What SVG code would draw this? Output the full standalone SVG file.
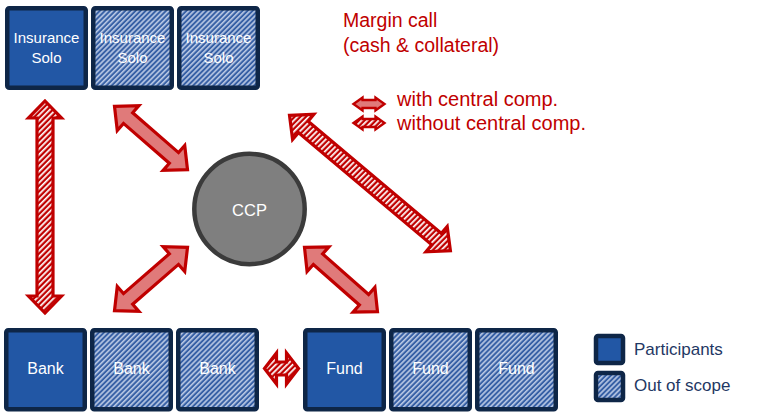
<svg xmlns="http://www.w3.org/2000/svg" width="768" height="412" viewBox="0 0 768 412">
<defs>
<pattern id="boxHatch" patternUnits="userSpaceOnUse" width="3.6" height="3.6" patternTransform="rotate(45)">
<rect width="3.6" height="3.6" fill="#3760a5"/>
<rect width="1.6" height="3.6" fill="#b9c8e4"/>
</pattern>
<pattern id="redHatch" patternUnits="userSpaceOnUse" width="4" height="4" patternTransform="rotate(45)">
<rect width="4" height="4" fill="#c00000"/>
<rect width="1.7" height="4" fill="#ffffff"/>
</pattern>
<style>
.box{stroke:#0e2647;stroke-width:4.5}
.part{fill:#2257a5}
.oos{fill:url(#boxHatch)}
.bt{font-family:"Liberation Sans",Arial,sans-serif;fill:#ffffff;text-anchor:middle}
.red{font-family:"Liberation Sans",Arial,sans-serif;fill:#c00000}
.leg{font-family:"Liberation Sans",Arial,sans-serif;fill:#1f3864;font-size:17px}
.arr{stroke:#c00000;stroke-width:3.2;stroke-linejoin:miter}
.solid{fill:#e07a7a}
.hatch{fill:url(#redHatch)}
.arrs{stroke:#c00000;stroke-width:2.4}
</style>
</defs>

<g id="connectors">
<polygon class="arr hatch" points="45,101 61.5,118 53,118 53,296 61.5,296 45,313 28.5,296 37,296 37,118 28.5,118"/>
<polygon class="arr solid" transform="translate(114.5,106.3) rotate(40.97)" points="0,0 18,-16.5 18,-7 78.7,-7 78.7,-16.5 96.7,0 78.7,16.5 78.7,7 18,7 18,16.5"/>
<polygon class="arr solid" transform="translate(114.5,310.7) rotate(-40.97)" points="0,0 18,-16.5 18,-7 78.7,-7 78.7,-16.5 96.7,0 78.7,16.5 78.7,7 18,7 18,16.5"/>
<polygon class="arr solid" transform="translate(304.5,247.3) rotate(41.4)" points="0,0 18,-16.5 18,-7 79.3,-7 79.3,-16.5 97.3,0 79.3,16.5 79.3,7 18,7 18,16.5"/>
<polygon class="arr hatch" points="289.5,115.3 313.9,114.3 308.1,121.2 441.4,233.4 447.2,226.5 450.4,250.7 426,251.8 431.8,244.9 298.4,132.6 292.6,139.5"/>
<polygon class="arr hatch" points="264.5,368.5 276.5,353 276.5,362 286.5,362 286.5,353 298.5,368.5 286.5,384 286.5,375 276.5,375 276.5,384"/>
</g>

<g id="ins1"><rect class="box part" x="7.25" y="8.25" width="78.5" height="79.5" rx="2"/><text class="bt" x="46.5" y="43" font-size="15">Insurance</text><text class="bt" x="46.5" y="63" font-size="15">Solo</text></g>
<g id="ins2"><rect class="box oos" x="93.25" y="8.25" width="78.5" height="79.5" rx="2"/><text class="bt" x="132.5" y="43" font-size="15">Insurance</text><text class="bt" x="132.5" y="63" font-size="15">Solo</text></g>
<g id="ins3"><rect class="box oos" x="179.25" y="8.25" width="78.5" height="79.5" rx="2"/><text class="bt" x="218.5" y="43" font-size="15">Insurance</text><text class="bt" x="218.5" y="63" font-size="15">Solo</text></g>

<g id="ccp"><circle cx="249.5" cy="209" r="55.2" fill="#7f7f7f" stroke="#3b3b3b" stroke-width="4.5"/><text class="bt" x="249.5" y="216" font-size="16.5">CCP</text></g>

<g id="bank1"><rect class="box part" x="6.25" y="330.25" width="78.5" height="79" rx="2"/><text class="bt" x="45.5" y="374" font-size="16">Bank</text></g>
<g id="bank2"><rect class="box oos" x="92.25" y="330.25" width="78.5" height="79" rx="2"/><text class="bt" x="131.5" y="374" font-size="16">Bank</text></g>
<g id="bank3"><rect class="box oos" x="178.25" y="330.25" width="78.5" height="79" rx="2"/><text class="bt" x="217.5" y="374" font-size="16">Bank</text></g>
<g id="fund1"><rect class="box part" x="305.25" y="330.25" width="78.5" height="79" rx="2"/><text class="bt" x="344.5" y="374" font-size="16">Fund</text></g>
<g id="fund2"><rect class="box oos" x="391.25" y="330.25" width="78.5" height="79" rx="2"/><text class="bt" x="430.5" y="374" font-size="16">Fund</text></g>
<g id="fund3"><rect class="box oos" x="477.25" y="330.25" width="78.5" height="79" rx="2"/><text class="bt" x="516.5" y="374" font-size="16">Fund</text></g>

<g id="legend-arrows">
<text class="red" x="343" y="27" font-size="19.5">Margin call</text>
<text class="red" x="343" y="52" font-size="19.5">(cash &amp; collateral)</text>
<polygon class="arrs solid" points="353.5,104 362.5,97.5 362.5,100 375.5,100 375.5,97.5 384.5,104 375.5,110.5 375.5,108 362.5,108 362.5,110.5"/>
<polygon class="arrs hatch" points="353.5,123 362.5,116.5 362.5,119 375.5,119 375.5,116.5 384.5,123 375.5,129.5 375.5,127 362.5,127 362.5,129.5"/>
<text class="red" x="397" y="106" font-size="20">with central comp.</text>
<text class="red" x="397" y="130" font-size="20">without central comp.</text>
</g>

<g id="legend-boxes">
<rect class="box part" x="596" y="336" width="27" height="27" rx="2"/>
<text class="leg" x="634" y="355">Participants</text>
<rect class="box oos" x="596" y="373" width="27" height="27" rx="2"/>
<text class="leg" x="634" y="391">Out of scope</text>
</g>
</svg>
